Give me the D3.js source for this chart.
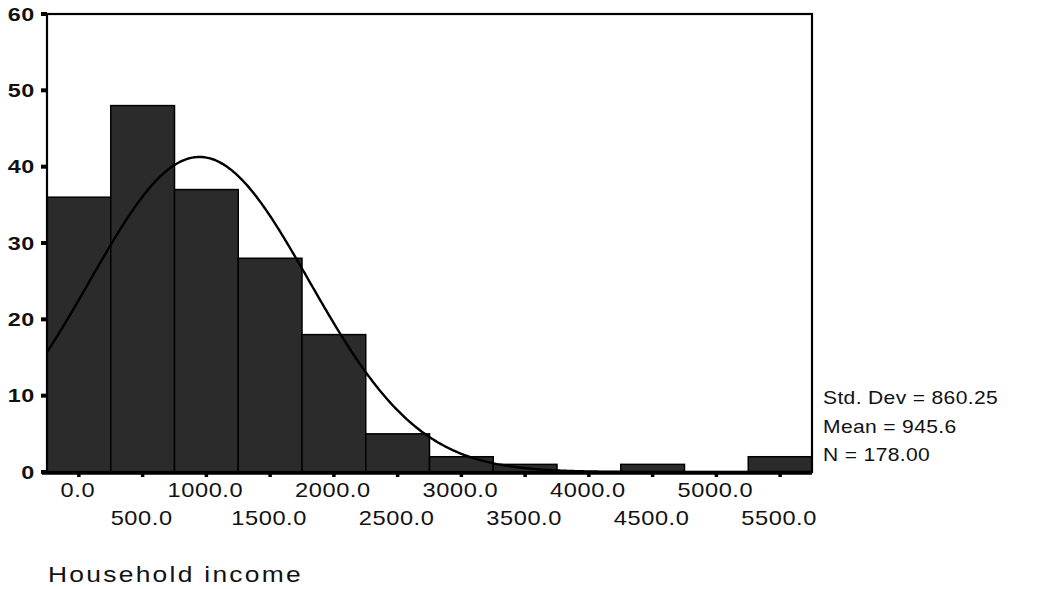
<!DOCTYPE html>
<html><head><meta charset="utf-8">
<script src="https://cdn.jsdelivr.net/npm/d3@7"></script>
<style>
body{margin:0;background:#fff;}
text{font-family:"Liberation Sans",Arial,sans-serif;fill:#111;}
</style></head>
<body>
<svg id="c" width="1037" height="589"></svg>
<script>
const binCenters = [0,500,1000,1500,2000,2500,3000,3500,4000,4500,5000,5500];
const counts = [36,48,37,28,18,5,2,1,0,1,0,2];
const binWidth = 500;
const yTicks = [0,10,20,30,40,50,60];
const xTickLabels = ["0.0","500.0","1000.0","1500.0","2000.0","2500.0","3000.0","3500.0","4000.0","4500.0","5000.0","5500.0"];
const statLabels = ["Std. Dev = 860.25","Mean = 945.6","N = 178.00"];
const stdDev = 860.25, mean = 945.6, nTotal = 178;
const axisTitle = "Household income";

const svg = d3.select("#c");
const L=47, R=812, T=14, B=472;
const x = d3.scaleLinear().domain([-250,5750]).range([L,R]);
const y = d3.scaleLinear().domain([0,60]).range([B,T]);

function stext(px, py, str, size, sx, anchor, weight, ls){
  const g = svg.append("g").attr("transform",`translate(${px},${py}) scale(${sx},1)`);
  g.append("text").attr("x",0).attr("y",0).attr("text-anchor",anchor||"start")
    .attr("font-size",size).attr("font-weight",weight||"normal")
    .attr("letter-spacing",ls||0).text(str);
  return g;
}

// bars
svg.selectAll("rect.bar").data(counts).join("rect")
  .attr("class","bar")
  .attr("x",(d,i)=>x(binCenters[i]-binWidth/2))
  .attr("width",(d,i)=>x(binCenters[i]+binWidth/2)-x(binCenters[i]-binWidth/2))
  .attr("y",d=>y(d))
  .attr("height",d=>y(0)-y(d))
  .attr("fill","#2b2b2b")
  .attr("stroke","#000")
  .attr("stroke-width",1.5);

// normal curve from displayed stats
const scaleK = nTotal*binWidth/(stdDev*Math.sqrt(2*Math.PI));
const xs = d3.range(-250,5750.1,10);
const curve = xs.map(v=>[v, scaleK*Math.exp(-0.5*((v-mean)/stdDev)**2)]);
svg.append("path").datum(curve)
  .attr("d",d3.line().x(d=>x(d[0])).y(d=>y(d[1])))
  .attr("fill","none").attr("stroke","#000").attr("stroke-width",2.4);

// frame
svg.append("rect").attr("x",L).attr("y",T).attr("width",R-L).attr("height",B-T)
  .attr("fill","none").attr("stroke","#000").attr("stroke-width",2.2);
svg.append("line").attr("x1",L-5).attr("x2",R).attr("y1",B+1).attr("y2",B+1)
  .attr("stroke","#000").attr("stroke-width",3.5);

// y axis
yTicks.forEach(t=>{
  svg.append("line").attr("x1",L-6).attr("x2",L).attr("y1",y(t)).attr("y2",y(t))
    .attr("stroke","#000").attr("stroke-width",4);
  stext(35, y(t)+6.5, t, 18, 1.3, "end", "bold", 0.5);
});

// x axis ticks/labels
binCenters.forEach((c,i)=>{
  svg.append("line").attr("x1",x(c)).attr("x2",x(c)).attr("y1",B).attr("y2",B+5)
    .attr("stroke","#000").attr("stroke-width",3.5);
  stext(x(c)-1, i%2===0 ? 497 : 525, xTickLabels[i], 20, 1.18, "middle", "normal", 0.5);
});

// stats
statLabels.forEach((s,i)=>{
  stext(823, 404+i*28.5, s, 18, 1.17, "start", "normal", 0.3);
});

stext(48, 582, axisTitle, 22, 1.2, "start", "normal", 1.9);
</script>
</body></html>
